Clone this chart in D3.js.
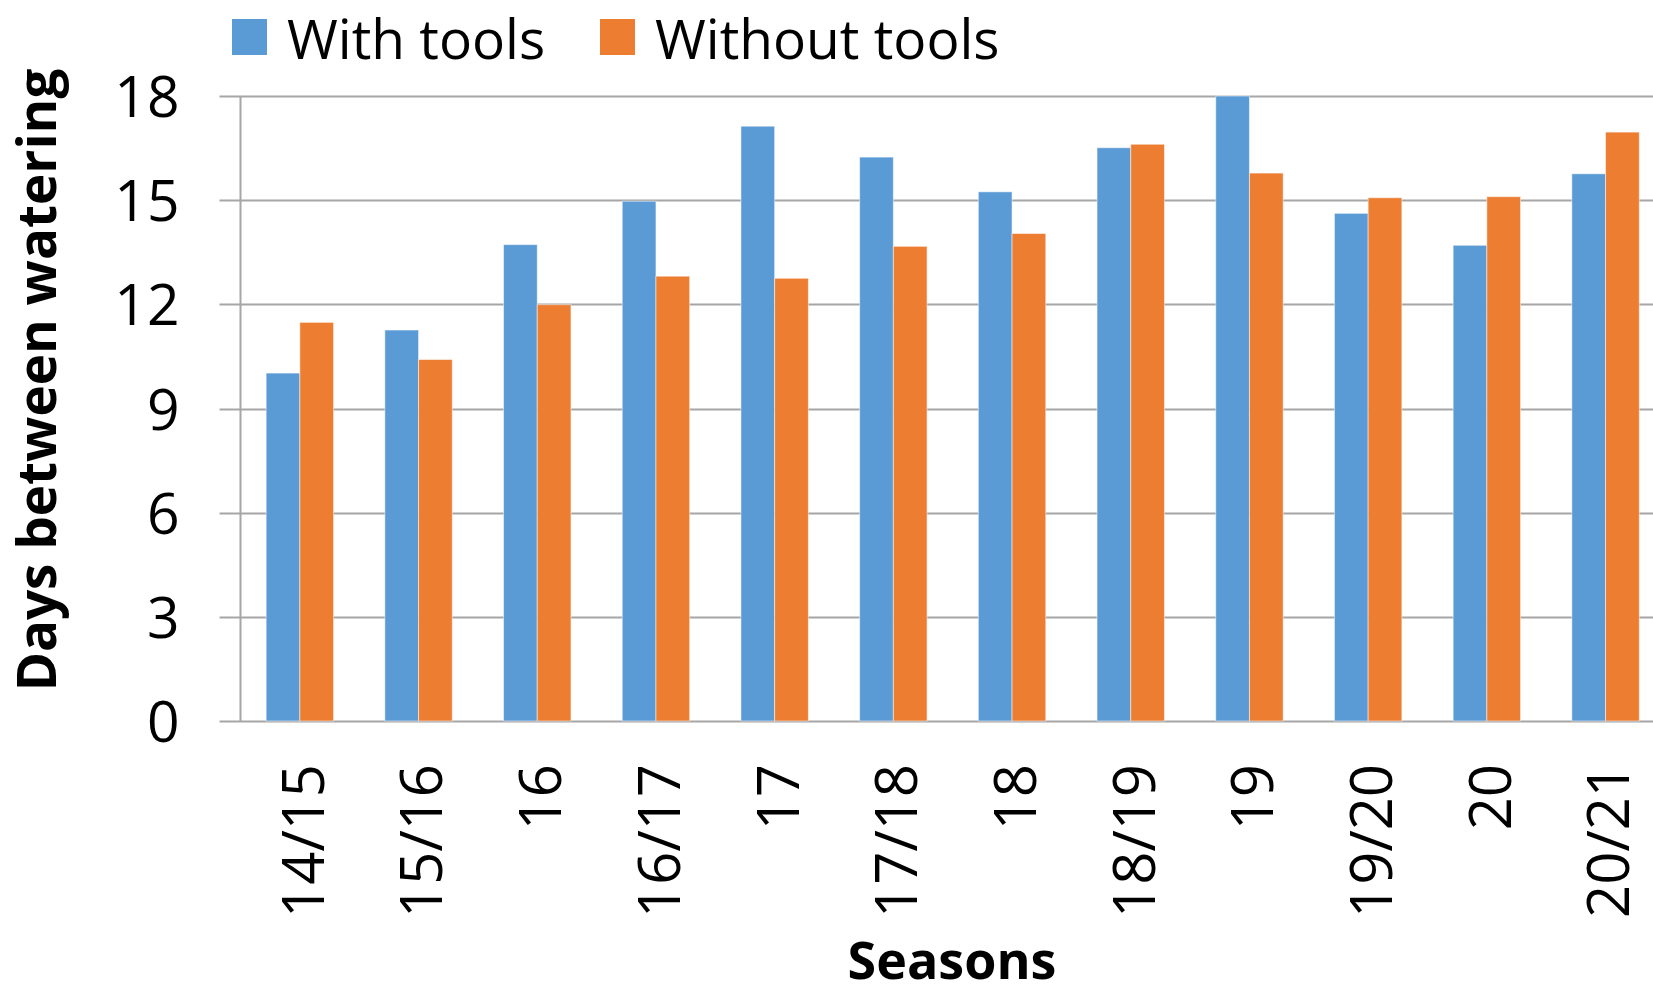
<!DOCTYPE html>
<html>
<head>
<meta charset="utf-8">
<script src="https://cdn.jsdelivr.net/npm/d3@7"></script>
<style>
  html, body { margin: 0; padding: 0; background: #fff; }
  svg { display: block; font-family: "Open Sans", "Noto Sans", sans-serif; }
</style>
</head>
<body>
<svg id="chart" width="1653" height="995"></svg>
<script>
// Seasons on the x axis
const seasons = ["14/15", "15/16", "16", "16/17", "17", "17/18", "18", "18/19", "19", "19/20", "20", "20/21"];
// Series names
const seriesNames = ["With tools", "Without tools"];
// Days between watering for each season
const withTools    = [10.02, 11.26, 13.72, 14.97, 17.13, 16.24, 15.24, 16.51, 18.0, 14.62, 13.70, 15.76];
const withoutTools = [11.48, 10.41, 11.99, 12.81, 12.75, 13.67, 14.04, 16.61, 15.78, 15.07, 15.10, 16.96];
// Y tick values
const yTicks = [0, 3, 6, 9, 12, 15, 18];
const colors = ["#5B9BD5", "#ED7D31"];

const svg = d3.select("#chart");
const W = 1653, H = 995;
const plot = { left: 240.5, top: 96, bottom: 721, step: 118.7 };

const x = d3.scaleBand()
  .domain(seasons)
  .range([plot.left, plot.left + seasons.length * plot.step])
  .paddingInner(0.432)
  .paddingOuter(0.216);

const xs = d3.scaleBand().domain(seriesNames).range([0, x.bandwidth()]);

const y = d3.scaleLinear().domain([0, 18]).range([plot.bottom, plot.top]);

const rows = seasons.map((s, i) => ({ season: s, values: [withTools[i], withoutTools[i]] }));

// Horizontal gridlines
svg.append("g")
  .selectAll("line")
  .data(yTicks)
  .join("line")
  .attr("x1", plot.left - 21)
  .attr("x2", W)
  .attr("y1", d => Math.round(y(d)) + 0.5)
  .attr("y2", d => Math.round(y(d)) + 0.5)
  .attr("stroke", "#a6a6a6")
  .attr("stroke-width", 2);

// Vertical axis line
svg.append("line")
  .attr("x1", plot.left).attr("x2", plot.left)
  .attr("y1", plot.top).attr("y2", plot.bottom)
  .attr("stroke", "#a6a6a6")
  .attr("stroke-width", 2);

// Bars
const groups = svg.append("g")
  .selectAll("g")
  .data(rows)
  .join("g")
  .attr("transform", d => `translate(${x(d.season)},0)`);

groups.selectAll("rect")
  .data(d => d.values.map((v, k) => ({ key: seriesNames[k], value: v, k })))
  .join("rect")
  .attr("x", d => xs(d.key))
  .attr("width", xs.bandwidth())
  .attr("y", d => y(d.value))
  .attr("height", d => y(0) - y(d.value))
  .attr("fill", d => colors[d.k])
  .attr("stroke", "#ffffff")
  .attr("stroke-opacity", 0.5)
  .attr("stroke-width", 1);

// Y axis tick labels
const yAxis = d3.axisLeft(y).tickValues(yTicks).tickSize(0).tickPadding(61);
const gy = svg.append("g").attr("transform", `translate(${plot.left},0)`).call(yAxis);
gy.select(".domain").remove();
gy.selectAll("text")
  .attr("font-size", 57)
  .attr("fill", "#000")
  .attr("font-family", "Open Sans")
  .attr("dy", "0.36em");

// X axis category labels (rotated)
const xAxis = d3.axisBottom(x).tickSize(0).tickPadding(0);
const gx = svg.append("g").attr("transform", `translate(0,${plot.bottom})`).call(xAxis);
gx.select(".domain").remove();
gx.selectAll("text")
  .attr("font-size", 58)
  .attr("fill", "#000")
  .attr("font-family", "Open Sans")
  .attr("text-anchor", "end")
  .attr("dy", "0.36em")
  .attr("transform", "translate(3,43) rotate(-90)")
  .attr("x", 0)
  .attr("y", 0);

// Axis titles
svg.append("text")
  .attr("transform", `translate(56,380) rotate(-90)`)
  .attr("text-anchor", "middle")
  .attr("font-size", 53)
  .attr("font-weight", 700)
  .attr("fill", "#000")
  .text("Days between watering");

svg.append("text")
  .attr("x", 952)
  .attr("y", 979)
  .attr("text-anchor", "middle")
  .attr("font-size", 52)
  .attr("font-weight", 700)
  .attr("fill", "#000")
  .text("Seasons");

// Legend
const legendX = [232, 600];
const legend = svg.append("g")
  .selectAll("g")
  .data(seriesNames)
  .join("g")
  .attr("transform", (d, i) => `translate(${legendX[i]},0)`);
legend.append("rect")
  .attr("x", 0).attr("y", 19)
  .attr("width", 35).attr("height", 36)
  .attr("fill", (d, i) => colors[i]);
legend.append("text")
  .attr("x", 55)
  .attr("y", 59)
  .attr("font-size", 55)
  .attr("fill", "#000")
  .text(d => d);
</script>
</body>
</html>
